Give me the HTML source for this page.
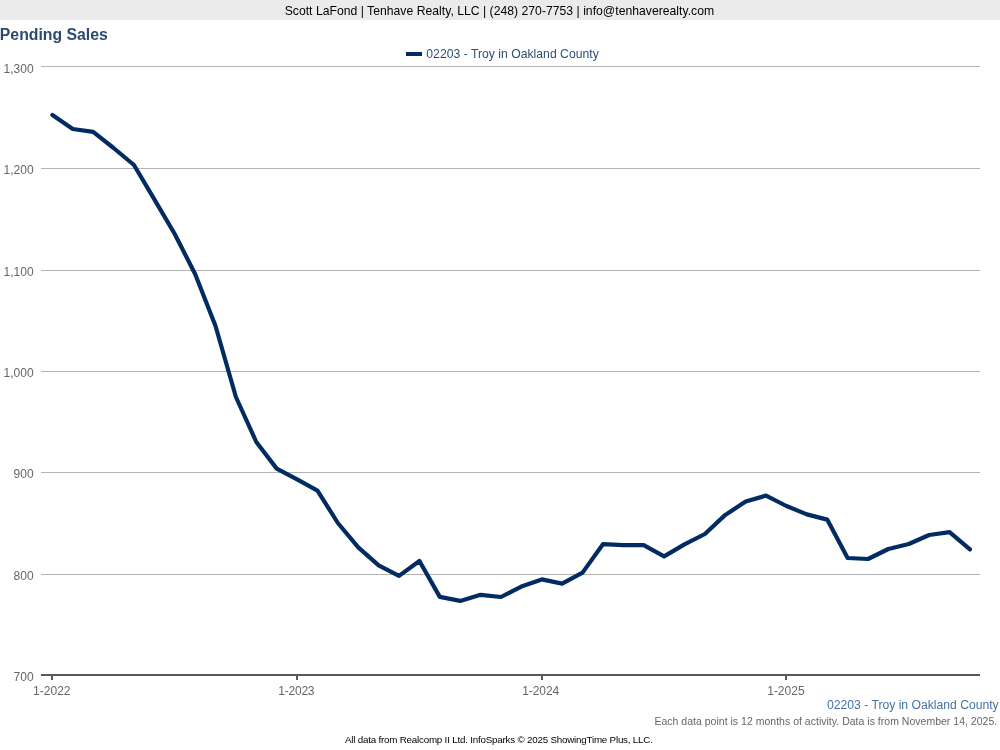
<!DOCTYPE html>
<html lang="en"><head><meta charset="utf-8"><title>Pending Sales</title>
<style>html,body{margin:0;padding:0;background:#fff;overflow:hidden}svg{display:block;will-change:transform}text{font-family:"Liberation Sans",Arial,Helvetica,sans-serif}</style></head><body>
<svg width="1000" height="750" viewBox="0 0 1000 750">
<rect x="0" y="0" width="1000" height="750" fill="#ffffff"/>
<rect x="0" y="0" width="1000" height="20" fill="#ebebeb"/>
<text x="499.4" y="15" font-size="12.2" fill="#000000" text-anchor="middle" textLength="429.5" lengthAdjust="spacing">Scott LaFond | Tenhave Realty, LLC | (248) 270-7753 | info@tenhaverealty.com</text>
<text x="-0.2" y="39.7" font-size="15.8" font-weight="bold" fill="#2b4a6f">Pending Sales</text>
<rect x="406" y="52" width="16" height="4" fill="#022c61"/>
<text x="426.3" y="57.6" font-size="12.2" fill="#2e4e74" textLength="172.5" lengthAdjust="spacing">02203 - Troy in Oakland County</text>
<rect x="41" y="66.0" width="939" height="1" fill="#b4b4b4"/>
<rect x="41" y="168.0" width="939" height="1" fill="#b4b4b4"/>
<rect x="41" y="270.0" width="939" height="1" fill="#b4b4b4"/>
<rect x="41" y="371.0" width="939" height="1" fill="#b4b4b4"/>
<rect x="41" y="472.0" width="939" height="1" fill="#b4b4b4"/>
<rect x="41" y="574.0" width="939" height="1" fill="#b4b4b4"/>
<text x="33.6" y="73.0" font-size="12" fill="#666666" text-anchor="end">1,300</text>
<text x="33.6" y="174.0" font-size="12" fill="#666666" text-anchor="end">1,200</text>
<text x="33.6" y="276.0" font-size="12" fill="#666666" text-anchor="end">1,100</text>
<text x="33.6" y="377.0" font-size="12" fill="#666666" text-anchor="end">1,000</text>
<text x="33.6" y="478.0" font-size="12" fill="#666666" text-anchor="end">900</text>
<text x="33.6" y="580.0" font-size="12" fill="#666666" text-anchor="end">800</text>
<text x="33.6" y="681.1" font-size="12" fill="#666666" text-anchor="end">700</text>
<rect x="41" y="674.0" width="939" height="2" fill="#595959"/>
<rect x="51" y="675" width="2" height="5" fill="#595959"/>
<text x="51.8" y="694.8" font-size="12" fill="#666666" text-anchor="middle">1-2022</text>
<rect x="296" y="675" width="2" height="5" fill="#595959"/>
<text x="296.4" y="694.8" font-size="12" fill="#666666" text-anchor="middle" textLength="36.3" lengthAdjust="spacing">1-2023</text>
<rect x="541" y="675" width="2" height="5" fill="#595959"/>
<text x="540.7" y="694.8" font-size="12" fill="#666666" text-anchor="middle" textLength="37.0" lengthAdjust="spacing">1-2024</text>
<rect x="785" y="675" width="2" height="5" fill="#595959"/>
<text x="785.9" y="694.8" font-size="12" fill="#666666" text-anchor="middle">1-2025</text>
<path d="M52.40 115.0 L72.79 129.0 L93.18 131.9 L113.57 148.0 L133.96 165.0 L154.35 199.4 L174.74 234.0 L195.13 274.0 L215.52 326.0 L235.91 397.0 L256.30 442.0 L276.69 468.6 L297.08 479.4 L317.47 490.6 L337.86 523.0 L358.25 547.4 L378.64 565.4 L399.03 575.9 L419.42 561.0 L439.81 596.9 L460.20 600.9 L480.59 594.8 L500.98 597.0 L521.37 586.6 L541.76 579.4 L562.15 583.6 L582.54 572.6 L602.93 544.2 L623.32 545.2 L643.71 545.2 L664.10 556.4 L684.49 544.4 L704.88 534.0 L725.27 514.9 L745.66 501.6 L766.05 495.6 L786.44 506.0 L806.83 514.4 L827.22 519.6 L847.61 558.0 L868.00 559.0 L888.39 549.0 L908.78 544.0 L929.17 535.0 L949.56 532.2 L969.95 549.4" fill="none" stroke="#022c61" stroke-width="4.2" stroke-linejoin="round" stroke-linecap="round"/>
<text x="827.0" y="708.7" font-size="12.2" fill="#4572a7" textLength="171.7" lengthAdjust="spacing">02203 - Troy in Oakland County</text>
<text x="997.2" y="724.7" font-size="10.5" fill="#666666" text-anchor="end" textLength="342.8" lengthAdjust="spacing">Each data point is 12 months of activity. Data is from November 14, 2025.</text>
<text x="498.9" y="743.0" font-size="9.8" fill="#000000" text-anchor="middle" textLength="308" lengthAdjust="spacing">All data from Realcomp II Ltd. InfoSparks © 2025 ShowingTime Plus, LLC.</text>
</svg></body></html>
